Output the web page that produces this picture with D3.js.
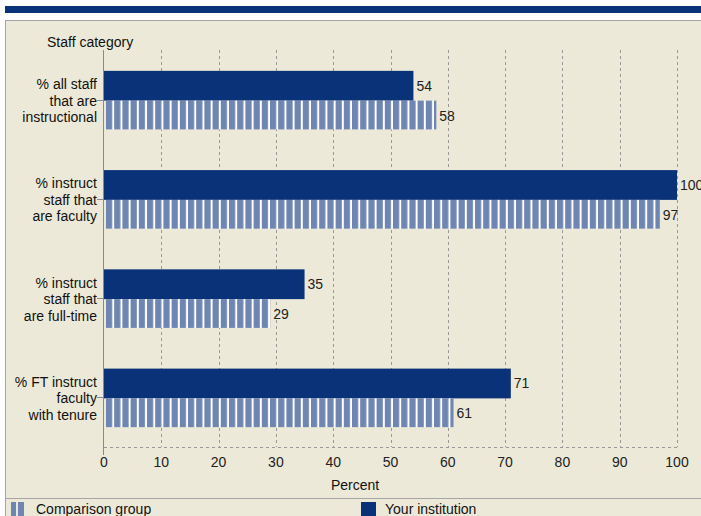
<!DOCTYPE html>
<html>
<head>
<meta charset="utf-8">
<script src="https://cdn.jsdelivr.net/npm/d3@7"></script>
<style>
  body { margin: 0; background: #ffffff; }
  svg { display: block; font-family: "Liberation Sans", Arial, sans-serif; }
</style>
</head>
<body>
<div class="chart"></div>
<script>
// data
var categories = [
  ["% all staff", "that are", "instructional"],
  ["% instruct", "staff that", "are faculty"],
  ["% instruct", "staff that", "are full-time"],
  ["% FT instruct", "faculty", "with tenure"]
];
var institution = [54, 100, 35, 71];
var comparison = [58, 97, 29, 61];
var xTicks = [0, 10, 20, 30, 40, 50, 60, 70, 80, 90, 100];
var seriesNames = ["Comparison group", "Your institution"];

// setup
var W = 701, H = 516;
var dark = "#0a3278", light = "#6f86b2", bg = "#ece9d8";
var plot = {left: 104, right: 677, top: 50, bottom: 447};
var fs = 14;

var svg = d3.select(".chart").append("svg")
    .attr("width", W)
    .attr("height", H);

// striped pattern for the comparison bars
var defs = svg.append("defs");
var pat = defs.append("pattern")
    .attr("id", "stripes")
    .attr("patternUnits", "userSpaceOnUse")
    .attr("x", plot.left + 2)
    .attr("width", 8.2)
    .attr("height", 10);
pat.append("rect").attr("width", 8.2).attr("height", 10).attr("fill", light);
pat.append("rect").attr("x", 6.2).attr("width", 2).attr("height", 10).attr("fill", "#ffffff");

// top banner
svg.append("rect").attr("x", 5).attr("y", 6).attr("width", W - 5).attr("height", 7).attr("fill", dark);

// panel
svg.append("rect")
    .attr("x", 5.5).attr("y", 20.5)
    .attr("width", W).attr("height", H)
    .attr("fill", bg)
    .attr("stroke", "#a5a5a5");

var xScale = d3.scaleLinear().domain([0, 100]).range([plot.left, plot.right]);
var yScale = d3.scaleBand().domain(d3.range(categories.length))
    .range([plot.top + 1, plot.bottom + 1]).paddingInner(0.4).paddingOuter(0.2);
var half = yScale.bandwidth() / 2;

// gridlines
svg.append("g").selectAll("line")
    .data(xTicks.filter(function(d) { return d > 0; }))
    .enter().append("line")
    .attr("x1", function(d) { return Math.round(xScale(d)) + 0.5; })
    .attr("x2", function(d) { return Math.round(xScale(d)) + 0.5; })
    .attr("y1", plot.top).attr("y2", plot.bottom)
    .attr("stroke", "#999").attr("stroke-dasharray", "3,3");
svg.append("line")
    .attr("x1", plot.left).attr("x2", plot.right)
    .attr("y1", plot.bottom + 0.5).attr("y2", plot.bottom + 0.5)
    .attr("stroke", "#999").attr("stroke-dasharray", "3,3");

// x axis labels
svg.append("g").selectAll("text")
    .data(xTicks).enter().append("text")
    .attr("x", function(d) { return xScale(d); })
    .attr("y", 467)
    .attr("text-anchor", "middle")
    .attr("font-size", fs)
    .attr("fill", "#222")
    .text(function(d) { return d; });

svg.append("text")
    .attr("x", 355).attr("y", 490)
    .attr("text-anchor", "middle")
    .attr("font-size", fs).attr("fill", "#111")
    .text("Percent");

svg.append("text")
    .attr("x", 47).attr("y", 47)
    .attr("font-size", fs).attr("fill", "#111")
    .text("Staff category");

// bars: your institution
svg.append("g").selectAll("rect")
    .data(institution).enter().append("rect")
    .attr("x", xScale(0))
    .attr("y", function(d, i) { return yScale(i); })
    .attr("width", function(d) { return xScale(d) - xScale(0); })
    .attr("height", half)
    .attr("fill", dark);

// bars: comparison
svg.append("g").selectAll("rect")
    .data(comparison).enter().append("rect")
    .attr("x", xScale(0) + 2)
    .attr("y", function(d, i) { return yScale(i) + half; })
    .attr("width", function(d) { return xScale(d) - xScale(0) - 2; })
    .attr("height", half - 1)
    .attr("fill", "url(#stripes)");

// value labels
svg.append("g").selectAll("text")
    .data(institution).enter().append("text")
    .attr("x", function(d) { return xScale(d) + 3; })
    .attr("y", function(d, i) { return yScale(i) + half / 2 + 5; })
    .attr("font-size", fs).attr("fill", "#222")
    .text(function(d) { return d; });
svg.append("g").selectAll("text")
    .data(comparison).enter().append("text")
    .attr("x", function(d) { return xScale(d) + 3; })
    .attr("y", function(d, i) { return yScale(i) + half * 1.5 + 5; })
    .attr("font-size", fs).attr("fill", "#222")
    .text(function(d) { return d; });

// y axis line and ticks
svg.append("line")
    .attr("x1", plot.left - 0.5).attr("x2", plot.left - 0.5)
    .attr("y1", plot.top).attr("y2", plot.bottom + 8)
    .attr("stroke", "#8a8a8a");
svg.append("g").selectAll("line")
    .data(categories).enter().append("line")
    .attr("x1", plot.left - 7).attr("x2", plot.left)
    .attr("y1", function(d, i) { return Math.round(yScale(i) + half) - 0.5; })
    .attr("y2", function(d, i) { return Math.round(yScale(i) + half) - 0.5; })
    .attr("stroke", "#8a8a8a");

// category labels
var cat = svg.append("g").selectAll("text")
    .data(categories).enter().append("text")
    .attr("text-anchor", "end")
    .attr("font-size", fs).attr("fill", "#111");
cat.selectAll("tspan")
    .data(function(d, i) { return d.map(function(s, j) { return {s: s, i: i, j: j}; }); })
    .enter().append("tspan")
    .attr("x", 97)
    .attr("y", function(d) { return yScale(d.i) + half + (d.j - 1) * 16.5 + 5; })
    .text(function(d) { return d.s; });

// legend
svg.append("line")
    .attr("x1", 5).attr("x2", W)
    .attr("y1", 498.5).attr("y2", 498.5)
    .attr("stroke", "#a5a5a5");
var lg = svg.append("g");
lg.append("rect").attr("x", 11).attr("y", 502).attr("width", 5).attr("height", 16).attr("fill", light);
lg.append("rect").attr("x", 18).attr("y", 502).attr("width", 6).attr("height", 16).attr("fill", light);
lg.append("text").attr("x", 36).attr("y", 514).attr("font-size", fs).attr("fill", "#111").text(seriesNames[0]);
lg.append("rect").attr("x", 361).attr("y", 502).attr("width", 15).attr("height", 16).attr("fill", dark);
lg.append("text").attr("x", 385).attr("y", 514).attr("font-size", fs).attr("fill", "#111").text(seriesNames[1]);
</script>
</body>
</html>
